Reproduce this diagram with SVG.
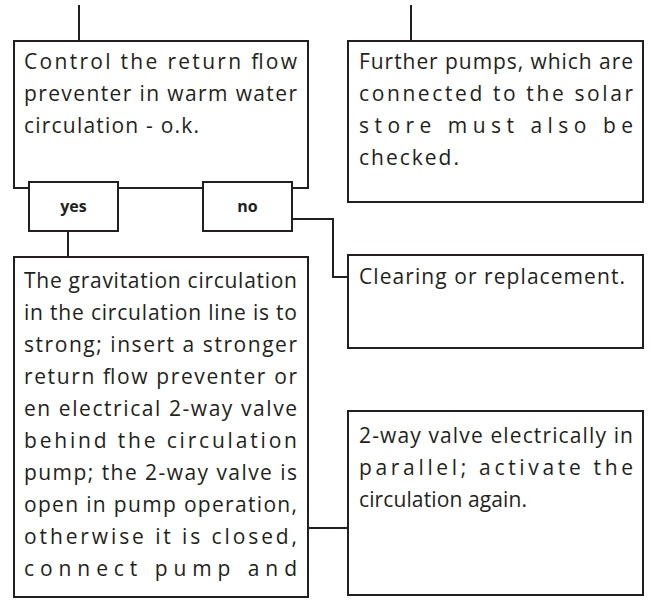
<svg xmlns="http://www.w3.org/2000/svg" width="652" height="602" viewBox="0 0 652 602">
<style>
.box{fill:#fff;stroke:#231f20;stroke-width:2}
.ln{fill:none;stroke:#231f20;stroke-width:2}
.t{font-family:"Open Sans","Liberation Sans",sans-serif;font-size:21px;fill:#231f20}
.b{font-family:"Open Sans","Liberation Sans",sans-serif;font-size:16px;font-weight:bold;fill:#231f20;text-anchor:middle}
</style>
<rect width="652" height="602" fill="#fff"/>
<g id="connectors">
<path class="ln" d="M79 5V41"/>
<path class="ln" d="M411 5V41"/>
<path class="ln" d="M68 231V257"/>
<path class="ln" d="M292 219H333V277H348"/>
<path class="ln" d="M308 528H348"/>
</g>
<g id="n1">
<rect class="box" x="14" y="41" width="294" height="147"/>
<text class="t"><tspan x="24" y="69" textLength="273" lengthAdjust="spacing">Control the return flow</tspan><tspan x="24" y="101" textLength="273" lengthAdjust="spacing">preventer in warm water</tspan><tspan x="24" y="133" textLength="175" lengthAdjust="spacing">circulation - o.k.</tspan></text>
</g>
<g id="yes">
<rect class="box" x="29" y="182" width="89" height="49"/>
<text class="b" x="73.5" y="212">yes</text>
</g>
<g id="no">
<rect class="box" x="203" y="182" width="89" height="49"/>
<text class="b" x="247.5" y="212">no</text>
</g>
<g id="n2">
<rect class="box" x="348" y="41" width="295" height="161"/>
<text class="t"><tspan x="359" y="69" textLength="274" lengthAdjust="spacing">Further pumps, which are</tspan><tspan x="359" y="101" textLength="274" lengthAdjust="spacing">connected to the solar</tspan><tspan x="359" y="133" textLength="274" lengthAdjust="spacing">store must also be</tspan><tspan x="359" y="165" textLength="100" lengthAdjust="spacing">checked.</tspan></text>
</g>
<g id="n3">
<rect class="box" x="14" y="257" width="294" height="340"/>
<text class="t"><tspan x="24" y="288" textLength="273" lengthAdjust="spacing">The gravitation circulation</tspan><tspan x="24" y="320" textLength="273" lengthAdjust="spacing">in the circulation line is to</tspan><tspan x="24" y="352" textLength="273" lengthAdjust="spacing">strong; insert a stronger</tspan><tspan x="24" y="384" textLength="273" lengthAdjust="spacing">return flow preventer or</tspan><tspan x="24" y="416" textLength="273" lengthAdjust="spacing">en electrical 2-way valve</tspan><tspan x="24" y="448" textLength="273" lengthAdjust="spacing">behind the circulation</tspan><tspan x="24" y="480" textLength="273" lengthAdjust="spacing">pump; the 2-way valve is</tspan><tspan x="24" y="512" textLength="273" lengthAdjust="spacing">open in pump operation,</tspan><tspan x="24" y="544" textLength="273" lengthAdjust="spacing">otherwise it is closed,</tspan><tspan x="24" y="576" textLength="273" lengthAdjust="spacing">connect pump and</tspan></text>
</g>
<g id="n4">
<rect class="box" x="348" y="255" width="295" height="93"/>
<text class="t"><tspan x="359" y="284" textLength="266" lengthAdjust="spacing">Clearing or replacement.</tspan></text>
</g>
<g id="n5">
<rect class="box" x="348" y="411" width="295" height="184"/>
<text class="t"><tspan x="359" y="443" textLength="274" lengthAdjust="spacing">2-way valve electrically in</tspan><tspan x="359" y="475" textLength="274" lengthAdjust="spacing">parallel; activate the</tspan><tspan x="359" y="507" textLength="168" lengthAdjust="spacing">circulation again.</tspan></text>
</g>
</svg>
